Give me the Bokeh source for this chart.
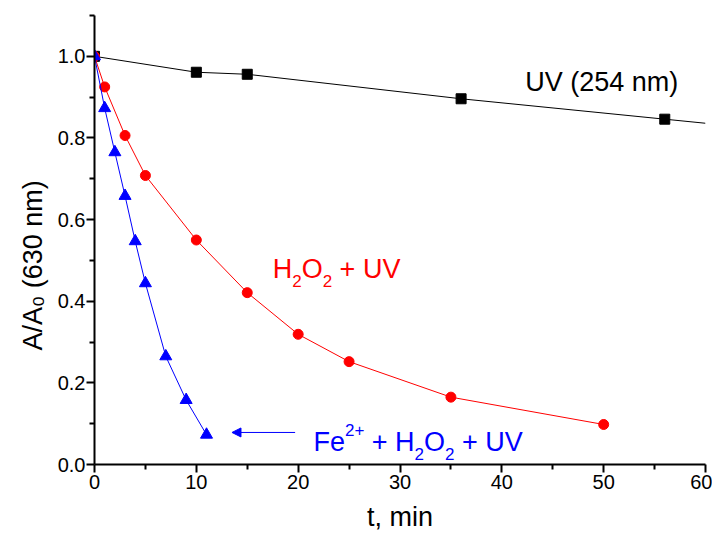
from bokeh.plotting import figure
from bokeh.models import (Range1d, FixedTicker, NumeralTickFormatter, Label,
                          Arrow, NormalHead, Title)
from bokeh.embed import file_html
from bokeh.resources import INLINE

# ---------------- data ----------------
t_uv = [0, 10, 15, 36, 56]
a_uv = [1.0, 0.961, 0.956, 0.896, 0.846]

t_h2o2 = [0, 1, 3, 5, 10, 15, 20, 25, 35, 50]
a_h2o2 = [1.0, 0.925, 0.806, 0.708, 0.550, 0.421, 0.319, 0.252, 0.165, 0.098]

t_fenton = [0, 1, 2, 3, 4, 5, 7, 9, 11]
a_fenton = [1.0, 0.873, 0.765, 0.658, 0.547, 0.444, 0.265, 0.158, 0.073]

x_ticks = [0, 10, 20, 30, 40, 50, 60]
x_minor = [5, 15, 25, 35, 45, 55]
y_ticks = [0.0, 0.2, 0.4, 0.6, 0.8, 1.0]
y_minor = [0.1, 0.3, 0.5, 0.7, 0.9, 1.1]

X_MAX = 60
Y_MAX = 1.1

FONT = "Liberation Sans"
BLACK = "#000000"
RED = "#FF0000"
BLUE = "#0000FF"

# Arial / Liberation Sans advance widths (per em)
ADV = {" ": 0.278, "(": 0.333, ")": 0.333, "+": 0.584, "/": 0.278,
       "A": 0.667, "F": 0.611, "H": 0.722, "O": 0.778, "U": 0.722,
       "V": 0.667, "e": 0.556, "m": 0.833, "n": 0.556}


def text_width(s, size):
    return sum(ADV.get(c, 0.556) for c in s) * size


p = figure(width=712, height=536, x_range=Range1d(0, X_MAX),
           y_range=Range1d(0, Y_MAX), output_backend="svg",
           toolbar_location=None, min_border_left=94, min_border_right=7,
           min_border_top=15, min_border_bottom=72)
p.outline_line_color = None
p.grid.visible = False
p.background_fill_color = "white"
p.border_fill_color = "white"

for ax in (p.xaxis[0], p.yaxis[0]):
    ax.axis_line_width = 2
    ax.axis_line_color = BLACK
    ax.major_tick_line_width = 2
    ax.minor_tick_line_width = 2
    ax.major_tick_out = 8
    ax.major_tick_in = 0
    ax.minor_tick_out = 5
    ax.minor_tick_in = 0
    ax.major_label_text_font = FONT
    ax.major_label_text_font_size = "20px"
    ax.major_label_text_color = BLACK
    ax.axis_label_text_font = FONT
    ax.axis_label_text_font_style = "normal"
    ax.axis_label_text_font_size = "27px"
    ax.axis_label_text_color = BLACK

p.xaxis[0].ticker = FixedTicker(ticks=x_ticks, minor_ticks=x_minor)
p.yaxis[0].ticker = FixedTicker(ticks=y_ticks, minor_ticks=y_minor)
p.yaxis[0].formatter = NumeralTickFormatter(format="0.0")
p.xaxis[0].major_label_standoff = 2
p.yaxis[0].major_label_standoff = 1
p.xaxis[0].axis_label = "t, min"
p.xaxis[0].axis_label_standoff = 10

# y-axis title as a left-side Title so it can be shifted along the axis
p.add_layout(Title(text="A/A\u2080 (630 nm)", align="left", offset=114,
                   vertical_align="top",
                   text_font=FONT, text_font_size="27px",
                   text_font_style="normal", text_color=BLACK,
                   standoff=10), "left")

# ---------------- series ----------------
# UV line extended to the right edge along the last segment's slope
slope = (a_uv[-1] - a_uv[-2]) / (t_uv[-1] - t_uv[-2])
t_uv_line = t_uv + [X_MAX]
a_uv_line = a_uv + [a_uv[-1] + slope * (X_MAX - t_uv[-1])]
p.line(t_uv_line, a_uv_line, line_color=BLACK, line_width=1)
p.scatter(t_uv, a_uv, marker="square", size=10, fill_color=BLACK,
          line_color=BLACK)

p.line(t_h2o2, a_h2o2, line_color=RED, line_width=1)
p.scatter(t_h2o2, a_h2o2, marker="circle", size=10, fill_color=RED,
          line_color=RED)

p.line(t_fenton, a_fenton, line_color=BLUE, line_width=1)
p.scatter(t_fenton, a_fenton, marker="triangle", size=12, fill_color=BLUE,
          line_color=BLUE)


# ---------------- rich text labels ----------------
def rich(parts, x, y, color, size=27, sub_size=17, shift=12):
    off = 0.0
    for txt, kind in parts:
        fs = size if kind == "n" else sub_size
        d = 0 if kind == "n" else (-shift if kind == "sub" else shift)
        # leading spaces are collapsed by SVG, advance manually
        stripped = txt.lstrip(" ")
        off += text_width(txt[:len(txt) - len(stripped)], fs)
        p.add_layout(Label(x=x, y=y, x_offset=off, y_offset=d,
                           text=stripped,
                           text_font=FONT, text_font_size=f"{fs}px",
                           text_color=color, text_align="left",
                           text_baseline="alphabetic"))
        off += text_width(stripped, fs)


rich([("UV (254 nm)", "n")], 42.3, 0.937, BLACK)
rich([("H", "n"), ("2", "sub"), ("O", "n"), ("2", "sub"), (" + UV", "n")],
     17.5, 0.48, RED)
rich([("Fe", "n"), ("2+", "sup"), (" + H", "n"), ("2", "sub"), ("O", "n"),
      ("2", "sub"), (" + UV", "n")], 21.5, 0.056, BLUE)

# arrow pointing to the last Fenton point
ARROW_X0, ARROW_X1, ARROW_Y = 19.7, 13.5, 0.0785
p.add_layout(Arrow(end=NormalHead(size=9, fill_color=BLUE, line_color=BLUE),
                   x_start=ARROW_X0, y_start=ARROW_Y, x_end=ARROW_X1,
                   y_end=ARROW_Y, line_color=BLUE, line_width=1))

open("out.html", "w").write(file_html(p, INLINE))
